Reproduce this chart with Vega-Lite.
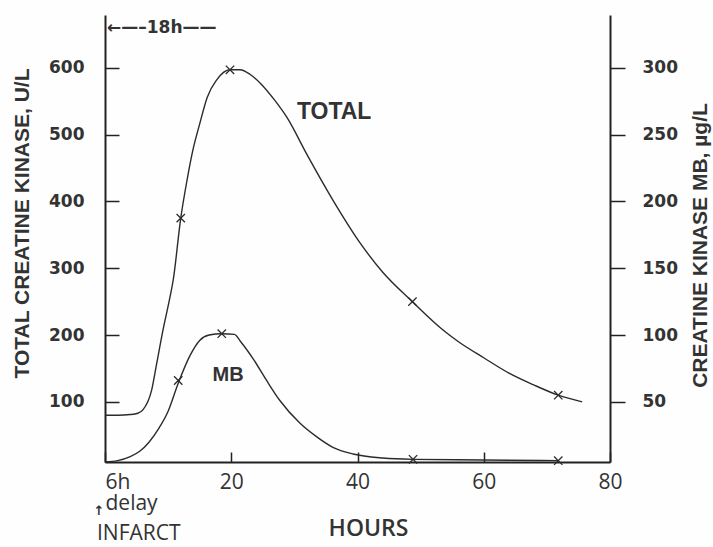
{
  "$schema": "https://vega.github.io/schema/vega-lite/v6.json",
  "width": 505,
  "height": 447,
  "autosize": "none",
  "padding": {"left": 105, "top": 15, "right": 103, "bottom": 85},
  "background": "#fefefe",
  "config": {"view": {"stroke": null}, "axis": {"grid": false}},
  "datasets": {
    "total": [
      {"hours": 0, "value": 80}, {"hours": 2, "value": 80}, {"hours": 4, "value": 81}, {"hours": 5.2, "value": 83},
      {"hours": 6, "value": 88}, {"hours": 7.4, "value": 118}, {"hours": 8.2, "value": 158}, {"hours": 9.2, "value": 208},
      {"hours": 10.3, "value": 257}, {"hours": 10.8, "value": 282}, {"hours": 12, "value": 375}, {"hours": 13, "value": 432},
      {"hours": 14, "value": 480}, {"hours": 15, "value": 516}, {"hours": 16.2, "value": 556}, {"hours": 17.7, "value": 582},
      {"hours": 19.8, "value": 597}, {"hours": 21.4, "value": 597}, {"hours": 23, "value": 590}, {"hours": 24.6, "value": 577},
      {"hours": 27, "value": 550}, {"hours": 28.8, "value": 526}, {"hours": 32, "value": 470}, {"hours": 36.1, "value": 402},
      {"hours": 40.4, "value": 338}, {"hours": 44, "value": 294}, {"hours": 48.7, "value": 250}, {"hours": 53.5, "value": 208},
      {"hours": 56, "value": 190}, {"hours": 60, "value": 166}, {"hours": 64, "value": 143}, {"hours": 68, "value": 125},
      {"hours": 71.8, "value": 110}, {"hours": 75.6, "value": 100}
    ],
    "mb": [
      {"hours": 0, "value": 5}, {"hours": 2, "value": 6}, {"hours": 4, "value": 9}, {"hours": 5.5, "value": 13},
      {"hours": 7, "value": 20}, {"hours": 8.5, "value": 30}, {"hours": 10, "value": 43}, {"hours": 11.6, "value": 64},
      {"hours": 13.5, "value": 85}, {"hours": 15, "value": 96}, {"hours": 16.5, "value": 100}, {"hours": 18.5, "value": 101},
      {"hours": 20.5, "value": 100.5}, {"hours": 21.5, "value": 95}, {"hours": 23.5, "value": 82}, {"hours": 25.6, "value": 66},
      {"hours": 27.7, "value": 51}, {"hours": 30.9, "value": 34}, {"hours": 33.5, "value": 24}, {"hours": 36.1, "value": 16},
      {"hours": 39.3, "value": 11}, {"hours": 44, "value": 8}, {"hours": 48.8, "value": 7}, {"hours": 60, "value": 6.5},
      {"hours": 71.8, "value": 6}
    ],
    "totalMarks": [
      {"hours": 12, "value": 375}, {"hours": 19.8, "value": 597}, {"hours": 48.7, "value": 250}, {"hours": 71.8, "value": 110}
    ],
    "mbMarks": [
      {"hours": 11.6, "value": 66}, {"hours": 18.5, "value": 101}, {"hours": 48.8, "value": 7}, {"hours": 71.8, "value": 6}
    ],
    "totalLabel": [{"hours": 36.3, "value": 534, "label": "TOTAL"}],
    "spanLabel": [{"hours": 0, "value": 660, "label": "←—–18h——"}],
    "arrowLabel": [{"hours": 0, "value": -64, "label": "↑"}],
    "infarctLabel": [{"hours": 0, "value": -98, "label": "INFARCT"}],
    "mbLabel": [{"hours": 19.5, "value": 70, "label": "MB"}]
  },
  "layer": [
    {
      "layer": [
        {
          "data": {"name": "total"},
          "mark": {"type": "line", "interpolate": "monotone", "color": "#2b2b2b", "strokeWidth": 1.4},
          "encoding": {
            "x": {
              "field": "hours", "type": "quantitative", "title": "HOURS",
              "scale": {"domain": [0, 80], "nice": false, "zero": false},
              "axis": {
                "values": [0, 20, 40, 60, 80],
                "labelExpr": "datum.value == 0 ? ['6h','delay'] : datum.label",
                "labelAlign": {"condition": {"test": "datum.value == 0", "value": "left"}, "value": "center"},
                "labelFlush": false,
                "labelOverlap": false,
                "labelBaseline": "top",
                "labelFont": "Open Sans",
                "labelFontSize": 21,
                "labelLineHeight": 21,
                "labelColor": "#333",
                "labelPadding": 19,
                "tickSize": -10,
                "tickColor": "#222",
                "tickWidth": 1.5,
                "domainColor": "#222",
                "domainWidth": 2,
                "titleFont": "Open Sans",
                "titleFontSize": 23,
                "titleFontWeight": 600,
                "titleColor": "#333",
                "titleX": 263,
                "titleY": 73,
                "titleAlign": "center",
                "titleBaseline": "alphabetic"
              }
            },
            "y": {
              "field": "value", "type": "quantitative",
              "scale": {"domain": [10, 679], "nice": false, "zero": false},
              "axis": {
                "values": [100, 200, 300, 400, 500, 600],
                "tickSize": -14,
                "labelPadding": 35,
                "labelFont": "DejaVu Sans",
                "labelFontWeight": "bold",
                "labelFontSize": 17,
                "labelColor": "#333",
                "tickColor": "#222",
                "tickWidth": 1.5,
                "domainColor": "#222",
                "domainWidth": 2,
                "title": "TOTAL   CREATINE   KINASE,   U/L",
                "titleFont": "Liberation Sans",
                "titleFontWeight": "bold",
                "titleFontSize": 21,
                "titleColor": "#333",
                "titleAngle": -90,
                "titleX": -83,
                "titleY": 208,
                "titleAlign": "center",
                "titleBaseline": "middle"
              }
            }
          }
        },
        {
          "data": {"name": "totalMarks"},
          "mark": {"type": "point", "shape": "M-1,-1L1,1M-1,1L1,-1", "filled": false, "size": 70, "color": "#2b2b2b", "strokeWidth": 1.3, "opacity": 1},
          "encoding": {
            "x": {"field": "hours", "type": "quantitative", "title": "HOURS"},
            "y": {"field": "value", "type": "quantitative"}
          }
        },
        {
          "data": {"name": "totalLabel"},
          "mark": {"type": "text", "font": "Liberation Sans", "fontWeight": "bold", "fontSize": 23, "color": "#333", "align": "center", "baseline": "middle"},
          "encoding": {
            "x": {"field": "hours", "type": "quantitative", "title": "HOURS"},
            "y": {"field": "value", "type": "quantitative"},
            "text": {"field": "label"}
          }
        },
        {
          "data": {"name": "spanLabel"},
          "mark": {"type": "text", "font": "DejaVu Sans", "fontWeight": "bold", "fontSize": 17, "color": "#333", "align": "left", "baseline": "middle", "dx": 2},
          "encoding": {
            "x": {"field": "hours", "type": "quantitative", "title": "HOURS"},
            "y": {"field": "value", "type": "quantitative"},
            "text": {"field": "label"}
          }
        },
        {
          "data": {"name": "arrowLabel"},
          "mark": {"type": "text", "font": "DejaVu Sans", "fontWeight": "bold", "fontSize": 13, "color": "#333", "align": "center", "baseline": "middle", "dx": -6},
          "encoding": {
            "x": {"field": "hours", "type": "quantitative", "title": "HOURS"},
            "y": {"field": "value", "type": "quantitative"},
            "text": {"field": "label"}
          }
        },
        {
          "data": {"name": "infarctLabel"},
          "mark": {"type": "text", "font": "Open Sans", "fontSize": 21, "color": "#333", "align": "left", "baseline": "middle", "dx": -8},
          "encoding": {
            "x": {"field": "hours", "type": "quantitative", "title": "HOURS"},
            "y": {"field": "value", "type": "quantitative"},
            "text": {"field": "label"}
          }
        }
      ]
    },
    {
      "layer": [
        {
          "data": {"name": "mb"},
          "mark": {"type": "line", "interpolate": "monotone", "color": "#2b2b2b", "strokeWidth": 1.4},
          "encoding": {
            "x": {"field": "hours", "type": "quantitative", "title": "HOURS"},
            "y": {
              "field": "value", "type": "quantitative",
              "scale": {"domain": [5, 339.5], "nice": false, "zero": false},
              "axis": {
                "orient": "right",
                "values": [50, 100, 150, 200, 250, 300],
                "tickSize": 15,
                "labelPadding": 17,
                "labelFont": "DejaVu Sans",
                "labelFontWeight": "bold",
                "labelFontSize": 17,
                "labelColor": "#333",
                "tickColor": "#222",
                "tickWidth": 1.5,
                "domainColor": "#222",
                "domainWidth": 2,
                "title": "CREATINE     KINASE     MB,     µg/L",
                "titleFont": "Liberation Sans",
                "titleFontWeight": "bold",
                "titleFontSize": 21,
                "titleColor": "#333",
                "titleAngle": -90,
                "titleX": 90,
                "titleY": 230,
                "titleAlign": "center",
                "titleBaseline": "middle"
              }
            }
          }
        },
        {
          "data": {"name": "mbMarks"},
          "mark": {"type": "point", "shape": "M-1,-1L1,1M-1,1L1,-1", "filled": false, "size": 70, "color": "#2b2b2b", "strokeWidth": 1.3, "opacity": 1},
          "encoding": {
            "x": {"field": "hours", "type": "quantitative", "title": "HOURS"},
            "y": {"field": "value", "type": "quantitative"}
          }
        },
        {
          "data": {"name": "mbLabel"},
          "mark": {"type": "text", "font": "Liberation Sans", "fontWeight": "bold", "fontSize": 20, "color": "#333", "align": "center", "baseline": "middle"},
          "encoding": {
            "x": {"field": "hours", "type": "quantitative", "title": "HOURS"},
            "y": {"field": "value", "type": "quantitative"},
            "text": {"field": "label"}
          }
        }
      ]
    }
  ],
  "resolve": {"scale": {"y": "independent"}}
}
